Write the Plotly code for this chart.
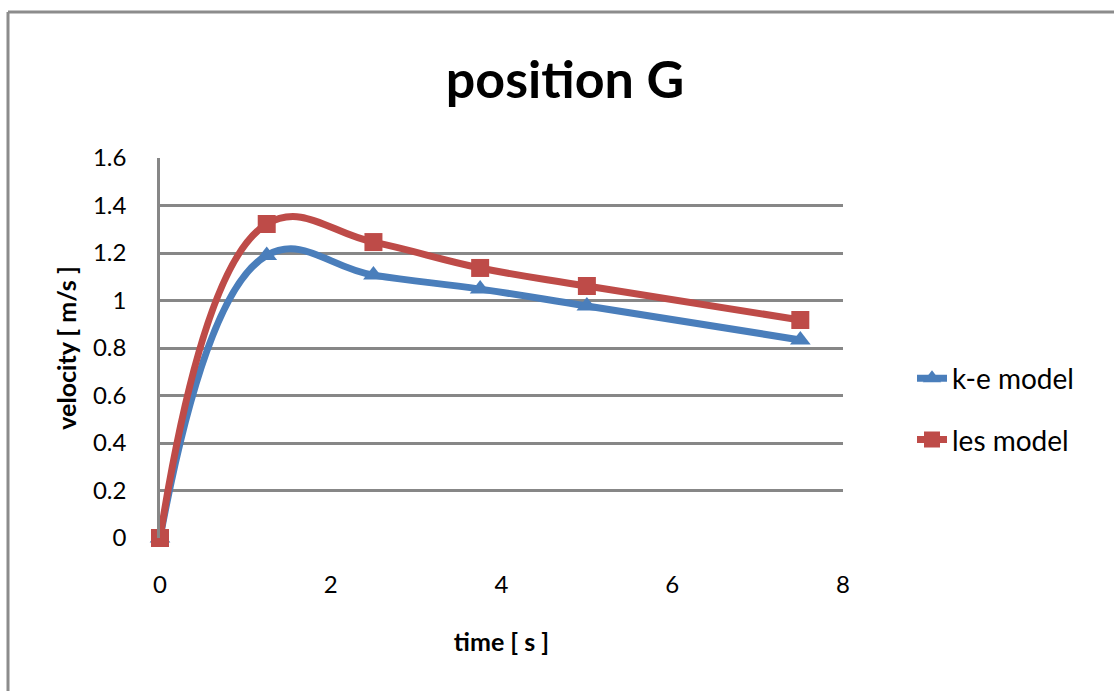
import plotly.graph_objects as go

time_s = [0, 1.25, 2.5, 3.75, 5, 7.5]
ke_model = [0, 1.19, 1.107, 1.048, 0.977, 0.834]
les_model = [0, 1.322, 1.246, 1.137, 1.061, 0.918]
y_ticks = [0, 0.2, 0.4, 0.6, 0.8, 1, 1.2, 1.4, 1.6]
y_tick_labels = ["0", "0.2", "0.4", "0.6", "0.8", "1", "1.2", "1.4", "1.6"]
x_ticks = [0, 2, 4, 6, 8]

FONT = "Lato, 'Open Sans', sans-serif"

fig = go.Figure()
fig.add_trace(go.Scatter(
    x=time_s, y=ke_model, name="k-e model", mode="lines+markers", legendgroup="ke",
    cliponaxis=False,
    line=dict(color="#4a7ebb", width=7, shape="spline", smoothing=1.2),
    marker=dict(symbol="triangle-up", size=18, color="#4a7ebb"),
))
fig.add_trace(go.Scatter(
    x=time_s, y=les_model, name="les model", mode="lines+markers", legendgroup="les",
    cliponaxis=False,
    line=dict(color="#be4b48", width=7, shape="spline", smoothing=1.2),
    marker=dict(symbol="square", size=18, color="#be4b48"),
))

fig.update_layout(
    width=1114, height=691,
    margin=dict(l=160, r=271, t=158, b=153),
    paper_bgcolor="white", plot_bgcolor="white",
    font=dict(family=FONT, color="black", size=24),
    title=dict(text="<b>position G</b>", x=(565 - 160) / 683, xref="paper",
               xanchor="center", y=1 - 80 / 691, yref="container", yanchor="middle",
               font=dict(size=52, family=FONT, color="black")),
    showlegend=True,
    legend=dict(x=(912 - 160) / 683, xanchor="left", y=(538 - 409) / 380, yanchor="middle",
                font=dict(size=28, family=FONT), tracegroupgap=22,
                bgcolor="rgba(0,0,0,0)"),
    xaxis=dict(range=[0, 8], tickvals=x_ticks, showgrid=False, zeroline=False,
               showline=False, ticks="", ticklabelstandoff=30,
               tickfont=dict(size=24, family=FONT),
               title=dict(text="<b>time [ s ]</b>", font=dict(size=25, family=FONT), standoff=36)),
    yaxis=dict(range=[0, 1.6], tickvals=y_ticks, ticktext=y_tick_labels,
               showgrid=True, gridcolor="#878787", gridwidth=2.5,
               zeroline=False, showline=True, linecolor="#878787", linewidth=2.5,
               ticks="", ticklabelstandoff=26,
               tickfont=dict(size=24, family=FONT),
               title=dict(text="<b>velocity [ m/s ]</b>", font=dict(size=25, family=FONT), standoff=10)),
)

# chart outer frame (extends past the visible window on right and bottom)
fig.add_shape(type="line", xref="paper", yref="paper",
              x0=(8 - 160) / 683, x1=2.0, y0=(538 - 12) / 380, y1=(538 - 12) / 380,
              line=dict(color="#8c8c8c", width=3))
fig.add_shape(type="line", xref="paper", yref="paper",
              x0=(8 - 160) / 683, x1=(8 - 160) / 683, y0=(538 - 12) / 380, y1=-1.0,
              line=dict(color="#8c8c8c", width=3))

fig.write_html("out.html")
